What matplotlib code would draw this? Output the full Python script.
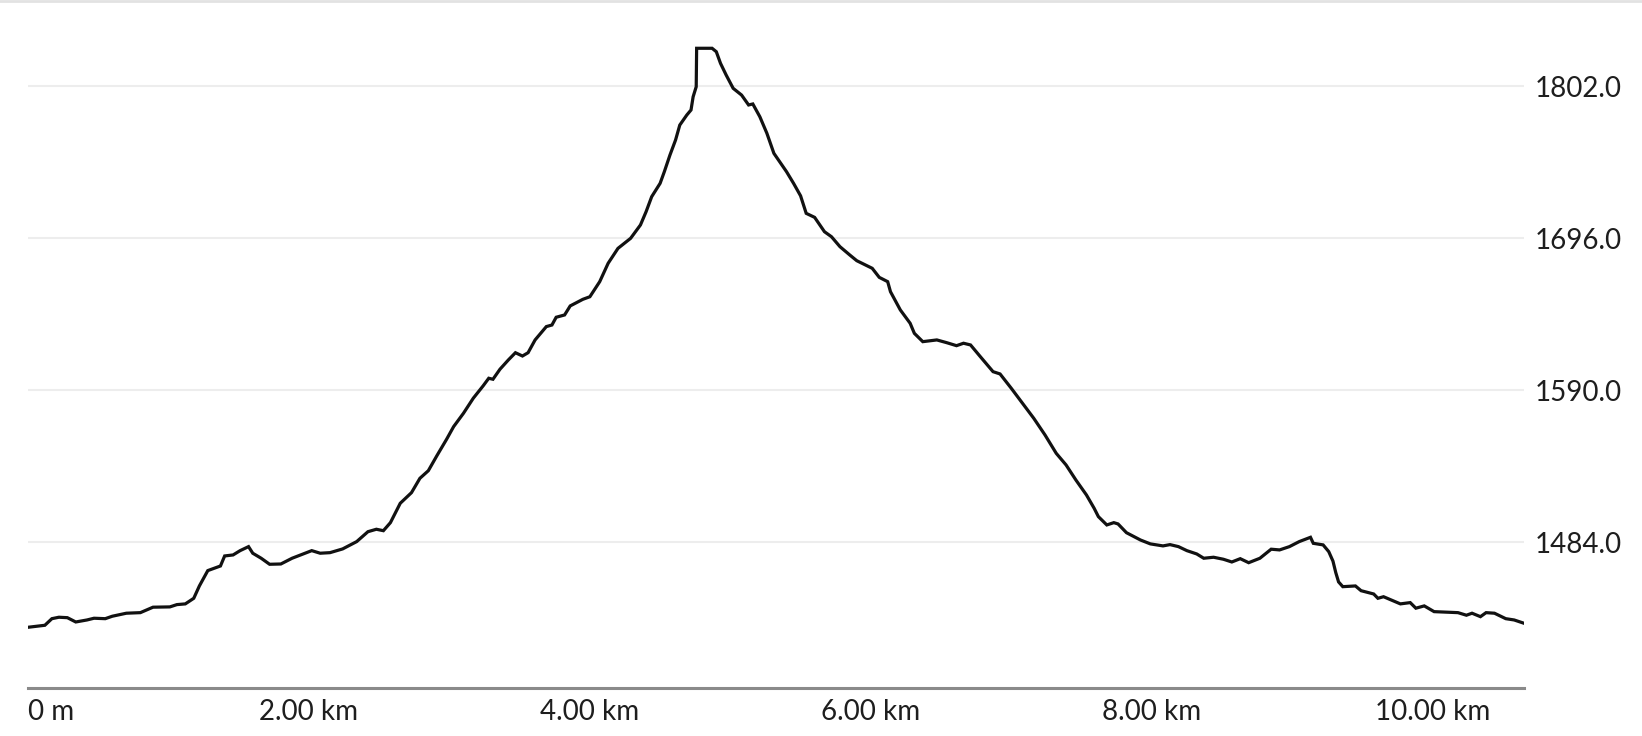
import matplotlib
matplotlib.use('Agg')
import matplotlib.pyplot as plt
from matplotlib.lines import Line2D

# elevation profile (km, m)
dist_km = [
    0.00, 0.12, 0.17, 0.22, 0.28, 0.34, 0.42, 0.47, 0.55, 0.60,
    0.70, 0.80, 0.89, 1.01, 1.06, 1.12, 1.18, 1.22, 1.28, 1.37,
    1.40, 1.46, 1.51, 1.57, 1.60, 1.66, 1.72, 1.80, 1.88, 2.02,
    2.08, 2.15, 2.24, 2.34, 2.42, 2.48, 2.53, 2.58, 2.65, 2.73,
    2.79, 2.85, 2.91, 2.98, 3.03, 3.10, 3.17, 3.24, 3.28, 3.31,
    3.36, 3.42, 3.47, 3.52, 3.56, 3.61, 3.69, 3.73, 3.76, 3.82,
    3.86, 3.95, 4.00, 4.07, 4.13, 4.20, 4.29, 4.36, 4.40, 4.44,
    4.50, 4.53, 4.57, 4.61, 4.64, 4.69, 4.72, 4.735, 4.757, 4.760,
    4.87, 4.90, 4.93, 4.97, 5.02, 5.06, 5.08, 5.13, 5.16, 5.21,
    5.26, 5.31, 5.40, 5.45, 5.50, 5.54, 5.60, 5.67, 5.72, 5.78,
    5.85, 5.90, 6.01, 6.06, 6.12, 6.14, 6.21, 6.28, 6.31, 6.37,
    6.47, 6.54, 6.61, 6.66, 6.71, 6.78, 6.87, 6.92, 7.00, 7.08,
    7.16, 7.24, 7.32, 7.39, 7.46, 7.535, 7.59, 7.62, 7.68, 7.73,
    7.76, 7.82, 7.92, 7.99, 8.08, 8.13, 8.19, 8.25, 8.32, 8.37,
    8.44, 8.51, 8.57, 8.63, 8.69, 8.77, 8.85, 8.91, 8.98, 9.05,
    9.13, 9.15, 9.22, 9.26, 9.29, 9.31, 9.33, 9.36, 9.45, 9.49,
    9.58, 9.61, 9.65, 9.77, 9.84, 9.88, 9.94, 10.01, 10.18, 10.24,
    10.28, 10.34, 10.38, 10.44, 10.52, 10.58, 10.65,
]
elev_m = [
    1424.9, 1426.3, 1430.9, 1431.9, 1431.6, 1428.6, 1430.0, 1431.2, 1430.9, 1432.6,
    1434.7, 1435.1, 1438.9, 1439.1, 1440.7, 1441.2, 1445.1, 1453.7, 1464.4, 1467.6,
    1474.6, 1475.3, 1478.3, 1481.1, 1476.5, 1473.0, 1468.8, 1469.0, 1473.0, 1478.3,
    1476.5, 1476.9, 1479.5, 1484.6, 1491.5, 1493.2, 1492.2, 1497.8, 1511.3, 1518.7,
    1528.7, 1534.0, 1544.3, 1555.9, 1564.7, 1574.0, 1584.5, 1593.1, 1598.4, 1597.7,
    1604.7, 1611.2, 1616.2, 1613.9, 1616.2, 1625.1, 1634.4, 1635.5, 1640.9, 1642.5,
    1648.8, 1653.4, 1655.2, 1665.7, 1678.5, 1688.9, 1695.9, 1705.2, 1714.4, 1724.9,
    1734.2, 1742.3, 1753.9, 1764.4, 1774.8, 1781.8, 1785.3, 1794.5, 1801.5, 1828.3,
    1828.3, 1825.9, 1817.8, 1809.7, 1800.4, 1797.3, 1795.7, 1788.8, 1789.5, 1780.6,
    1769.1, 1755.1, 1742.3, 1734.2, 1725.5, 1713.3, 1710.5, 1700.5, 1697.0, 1690.1,
    1684.3, 1680.3, 1675.0, 1668.7, 1665.7, 1658.7, 1646.0, 1636.7, 1629.7, 1623.9,
    1625.1, 1623.2, 1621.1, 1622.8, 1621.6, 1613.4, 1603.0, 1601.4, 1591.4, 1581.0,
    1570.5, 1558.9, 1546.1, 1538.0, 1527.5, 1517.1, 1507.8, 1502.0, 1496.2, 1497.8,
    1496.9, 1490.8, 1485.7, 1483.0, 1481.6, 1482.5, 1481.1, 1478.3, 1476.0, 1473.0,
    1473.7, 1472.3, 1470.4, 1472.7, 1469.9, 1473.0, 1479.3, 1478.8, 1481.1, 1484.6,
    1487.6, 1483.4, 1482.3, 1477.6, 1471.0, 1463.0, 1456.5, 1453.2, 1453.7, 1450.4,
    1448.1, 1445.1, 1446.2, 1441.2, 1442.1, 1438.2, 1439.8, 1435.8, 1435.1, 1433.3,
    1434.7, 1432.3, 1435.1, 1434.7, 1430.9, 1430.0, 1427.7,
]

y_ticks = [1484.0, 1590.0, 1696.0, 1802.0]
x_ticks = [0, 2, 4, 6, 8, 10]
x_labels = ['0 m', '2.00 km', '4.00 km', '6.00 km', '8.00 km', '10.00 km']

plt.rcParams['font.family'] = ['Lato', 'DejaVu Sans']

fig = plt.figure(figsize=(16.42, 7.36), dpi=100)
ax = fig.add_axes([28 / 1642, 48 / 736, 1496 / 1642, 668 / 736])

ax.plot(dist_km, elev_m, color='#111111', linewidth=2.3, solid_joinstyle='miter')

ax.set_xlim(0, 10.65)
ax.set_ylim(1382.6, 1848.0)

ax.set_yticks(y_ticks)
ax.set_yticklabels([f'{v:.1f}' for v in y_ticks])
ax.yaxis.tick_right()
ax.set_xticks(x_ticks)
ax.set_xticklabels(x_labels)
ax.tick_params(axis='both', length=0, labelsize=20, colors='#1e1e1e')
ax.tick_params(axis='y', pad=8)
ax.tick_params(axis='x', pad=8)
ax.get_xticklabels()[0].set_horizontalalignment('left')

ax.grid(axis='y', color='#ededed', linewidth=1.5)
ax.set_axisbelow(True)
for side in ['top', 'left', 'right']:
    ax.spines[side].set_visible(False)
ax.spines['bottom'].set_color('#8a8a8a')
ax.spines['bottom'].set_linewidth(2.2)

# faint shadow strip along the top edge
fig.add_artist(Line2D([0, 1], [0.998, 0.998], transform=fig.transFigure,
                      color='#e2e2e2', linewidth=2))

plt.savefig('out.png', dpi=100, facecolor='white')
